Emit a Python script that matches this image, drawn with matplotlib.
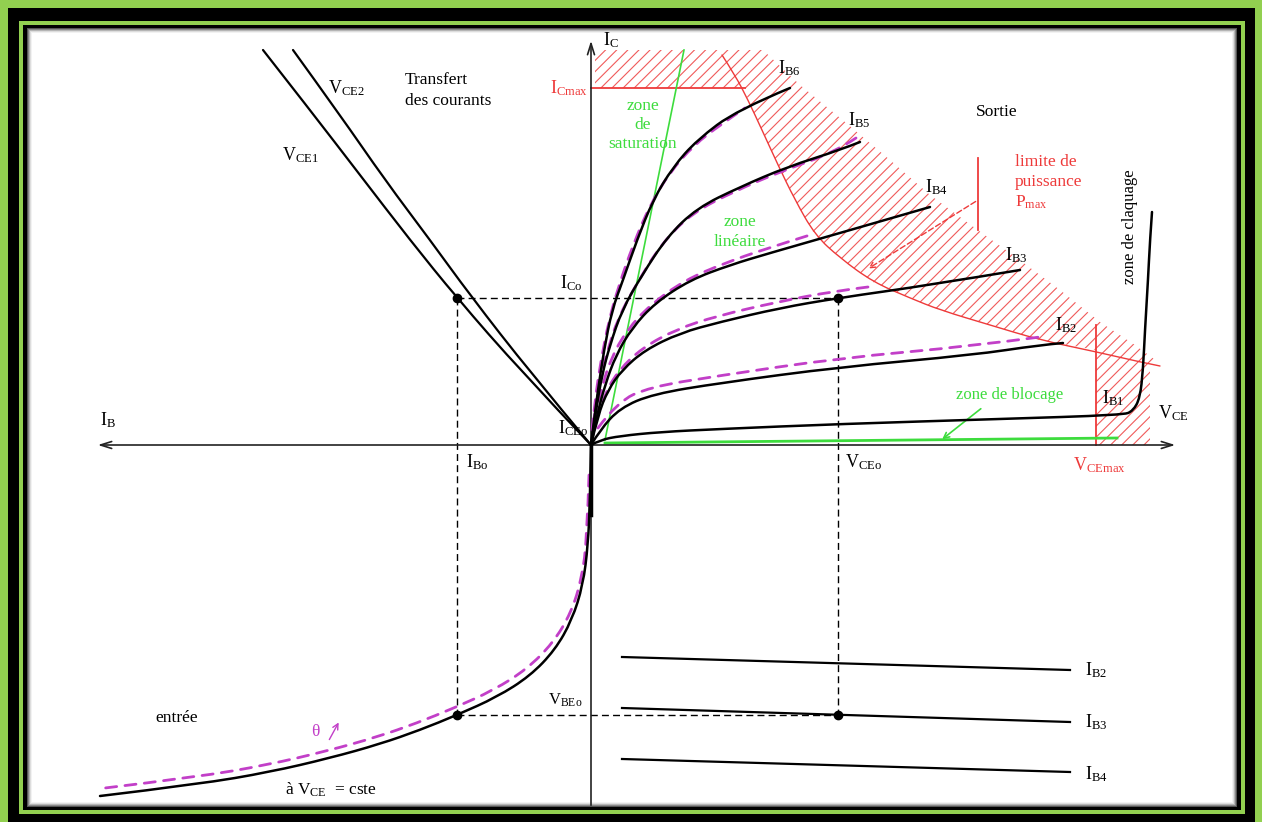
import matplotlib.pyplot as plt
from matplotlib.patches import Rectangle, Polygon, PathPatch
from matplotlib.path import Path

plt.rcParams['font.family'] = ['Liberation Serif', 'DejaVu Serif']
plt.rcParams['mathtext.default'] = 'regular'
plt.rcParams['hatch.linewidth'] = 0.8

# taille de l'image et origine des axes (en pixels)
W, H = 1262, 822
X0, Y0 = 591, 445

MAUVE = '#c23fc8'
VERT = '#3ddc3d'
ROUGE = '#ee3a3a'
FOND = '#92d050'

# --- quadrant sortie : I_C = f(V_CE) a I_B constant (u = V_CE, v = I_C)
ib6_u = [0, 3, 7, 13, 21, 32, 46, 62, 82, 106, 146, 199]
ib6_v = [0, 25, 55, 95, 135, 165, 205, 245, 278, 305, 335, 357]
ib5_u = [0, 5, 11, 19, 31, 51, 76, 106, 149, 196, 249, 269]
ib5_v = [0, 35, 70, 100, 135, 170, 208, 237, 258, 278, 295, 303]
ib4_u = [0, 6, 14, 25, 41, 64, 99, 139, 179, 249, 339]
ib4_v = [0, 30, 60, 90, 117, 142, 165, 180, 192, 212, 238]
ib3_u = [0, 7, 17, 31, 54, 89, 129, 189, 247, 339, 429]
ib3_v = [0, 30, 55, 75, 95, 112, 123, 137, 147, 160, 175]
ib2_u = [0, 9, 29, 62, 129, 249, 382, 449, 472]
ib2_v = [0, 15, 37, 51, 62, 78, 90, 100, 102]
ib1_u = [0, 9, 29, 69, 129, 249, 409, 532, 542, 549, 552, 554, 557, 559, 561]
ib1_v = [0, 5, 9, 13, 16, 21, 26, 30, 34, 47, 75, 115, 165, 205, 233]

# memes courbes a temperature plus elevee (pointilles)
th6_u = [1, 4, 10, 18, 28, 42, 59, 79, 103, 129, 154]
th6_v = [15, 45, 85, 125, 160, 200, 240, 273, 300, 320, 337]
th5_u = [2, 8, 16, 27, 46, 71, 101, 144, 191, 244, 265]
th5_v = [20, 60, 93, 127, 162, 202, 232, 254, 274, 293, 307]
th4_u = [3, 10, 20, 36, 59, 94, 134, 174, 219]
th4_v = [25, 55, 87, 115, 140, 165, 182, 196, 210]
th3_u = [5, 14, 28, 51, 86, 126, 186, 244, 277]
th3_v = [25, 52, 75, 97, 116, 129, 143, 154, 158]
th2_u = [7, 26, 59, 126, 249, 382, 449]
th2_v = [17, 43, 58, 69, 87, 99, 108]

# --- limites
pmax_u = [131, 144, 157, 171, 187, 204, 224, 249, 282, 319, 349, 399, 449, 506, 549, 569]
pmax_v = [390, 370, 345, 315, 280, 245, 210, 187, 163, 147, 135, 120, 105, 93, 83, 79]
hach_u = [172, 209, 254, 299, 339, 384, 426, 469, 509, 544, 567]
hach_v = [395, 360, 323, 285, 250, 217, 187, 155, 123, 100, 83]
ic_max = 357
vce_max = 505
vce_claq = 559
ic_haut = 395
sat_u, sat_v = [14, 93], [5, 395]
blocage_u, blocage_v = [14, 526], [2, 7]

# --- quadrant transfert I_C = f(I_B)
vce1_u = [-328, -281, -231, -181, -134, -71, 0]
vce1_v = [395, 335, 270, 205, 147, 75, 0]
vce2_u = [-298, -251, -206, -161, -121, -61, 0]
vce2_v = [395, 330, 265, 205, 150, 73, 0]

# --- quadrant entree V_BE = f(I_B)
entree_u = [0, -1, -3, -8, -19, -36, -61, -94, -134, -171, -211, -261, -321, -391, -491]
entree_v = [0, -55, -100, -140, -175, -205, -231, -252, -270, -285, -299, -313, -327, -339, -351]
entree_th_u = [-2, -4, -9, -20, -38, -64, -97, -137, -174, -214, -264, -324, -394, -486]
entree_th_v = [-30, -92, -133, -168, -198, -224, -245, -263, -278, -292, -306, -320, -332, -343]

# --- quadrant V_BE = f(V_CE)
vbe_u = [31, 479]
vbe_ib2 = [-212, -225]
vbe_ib3 = [-263, -277]
vbe_ib4 = [-314, -327]

# point de fonctionnement
ib0, ic0, vce0, vbe0 = -134, 147, 247, -270


def cadre(ax, x1, y1, x2, y2, couleur, z=0):
    ax.add_patch(Rectangle((x1 / W, 1 - y2 / H), (x2 - x1) / W, (y2 - y1) / H,
                           transform=ax.transAxes, fc=couleur, ec='none', zorder=z))


def courbe(ax, u, v, **kw):
    """Trace la courbe lissee (B-spline quadratique) passant par les points releves."""
    pts = list(zip(u, v))
    verts, codes = [pts[0]], [Path.MOVETO]
    for i in range(1, len(pts) - 2):
        mid = ((pts[i][0] + pts[i + 1][0]) / 2, (pts[i][1] + pts[i + 1][1]) / 2)
        verts += [pts[i], mid]
        codes += [Path.CURVE3, Path.CURVE3]
    if len(pts) > 2:
        verts += [pts[-2], pts[-1]]
        codes += [Path.CURVE3, Path.CURVE3]
    else:
        verts += [pts[-1]]
        codes += [Path.LINETO]
    ax.add_patch(PathPatch(Path(verts, codes), fill=False, capstyle='round', **kw))


fig = plt.figure(figsize=(W / 100, H / 100), dpi=100)
fig.patch.set_facecolor(FOND)
ax = fig.add_axes([0, 0, 1, 1])
ax.set_xlim(-X0, W - X0)
ax.set_ylim(Y0 - H, Y0)
ax.axis('off')

# cadre decoratif
cadre(ax, 8, 8, 1255, 830, 'black')
cadre(ax, 19, 21, 1245, 814, FOND)
cadre(ax, 23, 25, 1241, 810, 'black')
for k, g in enumerate(['#555555', '#888888', '#b5b5b5', '#dddddd', '#f2f2f2', 'white']):
    cadre(ax, 27 + k, 28 + k, 1237 - k, 807 - k, g, z=0.1 + k * 0.01)

# zone interdite hachuree
poly_u = ([4, 4] + hach_u + [vce_claq, vce_claq, vce_max, vce_max]
          + [u for u in pmax_u[::-1] if 154 < u < vce_max] + [154])
poly_v = ([ic_max, ic_haut] + hach_v + [hach_v[-1], 0, 0, 95]
          + [v for u, v in zip(pmax_u[::-1], pmax_v[::-1]) if 154 < u < vce_max] + [ic_max])
ax.add_patch(Polygon(list(zip(poly_u, poly_v)), closed=True, fc='none',
                     ec='#f05a5a', lw=0, hatch='///', zorder=1))
courbe(ax, pmax_u, pmax_v, color=ROUGE, lw=1, zorder=2)
ax.plot([0, 154], [ic_max, ic_max], color=ROUGE, lw=1.3, zorder=2)
ax.plot([vce_max, vce_max], [0, 120], color=ROUGE, lw=1.3, zorder=2)
ax.plot([387, 387], [215, 287], color=ROUGE, lw=1.3)
ax.annotate('', xy=(275, 175), xytext=(387, 245),
            arrowprops=dict(arrowstyle='->', color=ROUGE, lw=1, ls=(0, (4, 2))))

# zones en vert
ax.plot(sat_u, sat_v, color=VERT, lw=1.2, zorder=2)
ax.plot(blocage_u, blocage_v, color=VERT, lw=2, zorder=2)
ax.annotate('', xy=(349, 4), xytext=(392, 38),
            arrowprops=dict(arrowstyle='->', color=VERT, lw=1.2))

# axes du diagramme
ax.annotate('', xy=(-496, 0), xytext=(587, 0),
            arrowprops=dict(arrowstyle='<->,head_length=0.8,head_width=0.25', color='#222222', lw=1.2))
ax.annotate('', xy=(0, 407), xytext=(0, -363),
            arrowprops=dict(arrowstyle='->,head_length=0.8,head_width=0.25', color='#222222', lw=1.2))
ax.plot([0, 0], [0, -70], color='black', lw=2.5, zorder=3)

# reseau de sortie
for u, v in [(th6_u, th6_v), (th5_u, th5_v), (th4_u, th4_v), (th3_u, th3_v), (th2_u, th2_v)]:
    courbe(ax, u, v, color=MAUVE, lw=2, ls=(0, (4, 3)), zorder=3)
for u, v in [(ib6_u, ib6_v), (ib5_u, ib5_v), (ib4_u, ib4_v), (ib3_u, ib3_v),
             (ib2_u, ib2_v), (ib1_u, ib1_v)]:
    courbe(ax, u, v, color='black', lw=1.8, zorder=4)

# transfert
courbe(ax, vce1_u, vce1_v, color='black', lw=1.6, zorder=4)
courbe(ax, vce2_u, vce2_v, color='black', lw=1.6, zorder=4)

# entree
courbe(ax, entree_th_u, entree_th_v, color=MAUVE, lw=2, ls=(0, (4, 3)), zorder=3)
courbe(ax, entree_u, entree_v, color='black', lw=1.8, zorder=4)

# V_BE = f(V_CE)
for v in [vbe_ib2, vbe_ib3, vbe_ib4]:
    ax.plot(vbe_u, v, color='black', lw=1.6, zorder=4)

# point de fonctionnement
kw = dict(color='black', lw=1, ls=(0, (5, 3)), zorder=2)
ax.plot([ib0, vce0], [ic0, ic0], **kw)
ax.plot([ib0, vce0], [vbe0, vbe0], **kw)
ax.plot([ib0, ib0], [ic0, vbe0], **kw)
ax.plot([vce0, vce0], [ic0, vbe0], **kw)
ax.plot([ib0, vce0, ib0, vce0], [ic0, ic0, vbe0, vbe0], 'o', color='black', ms=6, zorder=5)

# textes
fs = 13
t = dict(fontsize=fs, va='center', ha='left')
ax.text(12, 405, 'I$_C$', **t)
ax.text(-3, 357, 'I$_{Cmax}$', fontsize=fs, va='center', ha='right', color=ROUGE)
ax.text(187, 377, 'I$_{B6}$', **t)
ax.text(257, 325, 'I$_{B5}$', **t)
ax.text(334, 258, 'I$_{B4}$', **t)
ax.text(414, 190, 'I$_{B3}$', **t)
ax.text(464, 120, 'I$_{B2}$', **t)
ax.text(511, 47, 'I$_{B1}$', **t)
ax.text(567, 32, 'V$_{CE}$', **t)
ax.text(406, 333, 'Sortie', fontsize=12.5, ha='center', va='center')
ax.text(424, 291, 'limite de\npuissance\nP$_{max}$', fontsize=12.5, color=ROUGE,
        ha='left', va='top', linespacing=1.3)
ax.text(539, 218, 'zone de claquage', fontsize=12, rotation=90, ha='center', va='center')
ax.text(482, -20, 'V$_{CEmax}$', fontsize=fs, color=ROUGE, ha='left', va='center')
ax.text(419, 50, 'zone de blocage', fontsize=12, color=VERT, ha='center', va='center')
ax.text(254, -17, 'V$_{CEo}$', **t)
ax.text(-125, -17, 'I$_{Bo}$', **t)
ax.text(-3, 17, 'I$_{CEo}$', fontsize=fs, va='center', ha='right')
ax.text(-31, 162, 'I$_{Co}$', **t)
ax.text(-491, 25, 'I$_B$', **t)
ax.text(-186, 373, 'Transfert\ndes courants', fontsize=12.5, ha='left', va='top', linespacing=1.4)
ax.text(-263, 357, 'V$_{CE2}$', **t)
ax.text(-309, 290, 'V$_{CE1}$', **t)
ax.text(52, 320, 'zone\nde\nsaturation', fontsize=12.5, color=VERT, ha='center', va='center',
        linespacing=1.25)
ax.text(149, 213, 'zone\nlinéaire', fontsize=12.5, color=VERT, ha='center', va='center',
        linespacing=1.3)
ax.text(-43, -255, 'V$_{BEo}$', fontsize=12, ha='left', va='center')
ax.text(-436, -273, 'entrée', fontsize=12.5, ha='left', va='center')
ax.text(-276, -287, 'θ', fontsize=12.5, color=MAUVE, ha='center', va='center')
ax.annotate('', xy=(-251, -275), xytext=(-263, -297),
            arrowprops=dict(arrowstyle='->', color=MAUVE, lw=1))
ax.text(-306, -345, 'à V$_{CE}$  = cste', fontsize=12.5, ha='left', va='center')
ax.text(494, -225, 'I$_{B2}$', **t)
ax.text(494, -277, 'I$_{B3}$', **t)
ax.text(494, -329, 'I$_{B4}$', **t)

fig.savefig('out.png', dpi=100, facecolor=fig.get_facecolor())
